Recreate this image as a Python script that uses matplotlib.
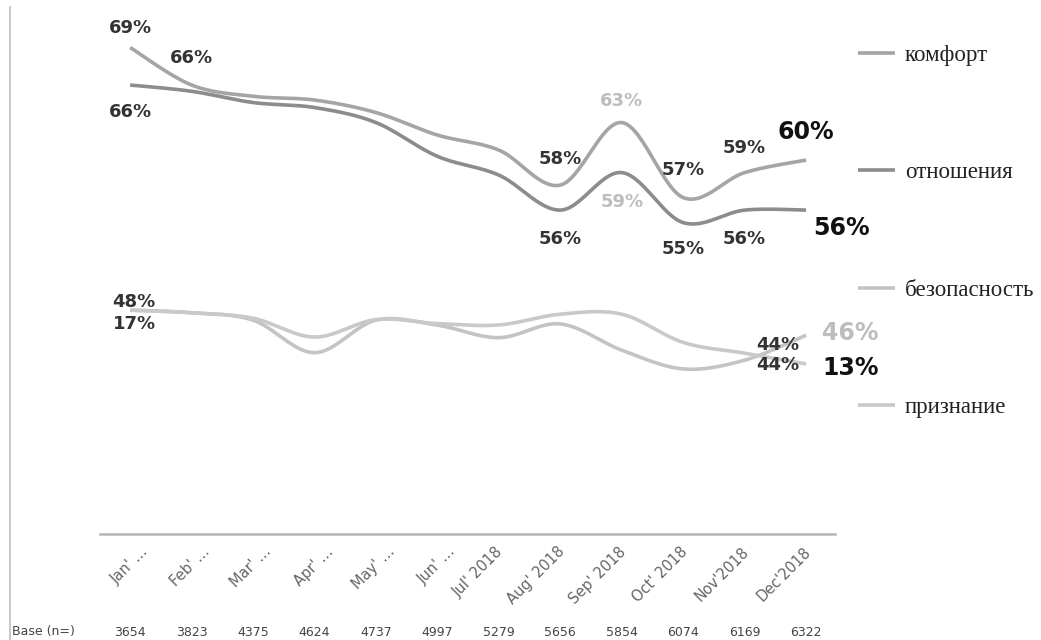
import numpy as np
import matplotlib
matplotlib.use("Agg")
import matplotlib.pyplot as plt
from matplotlib.lines import Line2D
from matplotlib.transforms import ScaledTranslation, offset_copy

# ---- data -----------------------------------------------------------------
months = ["Jan' …", "Feb' …", "Mar' …", "Apr' …", "May' …", "Jun' …",
          "Jul' 2018", "Aug' 2018", "Sep' 2018", "Oct' 2018", "Nov'2018", "Dec'2018"]
base_n = [3654, 3823, 4375, 4624, 4737, 4997, 5279, 5656, 5854, 6074, 6169, 6322]

komfort = [69, 66, 65.1, 64.8, 63.8, 62.0, 60.8, 58, 63, 57, 59, 60]
otnosheniya = [66, 65.5, 64.6, 64.2, 63.0, 60.3, 58.8, 56, 59, 55, 56, 56]
bezopasnost = [48, 47.8, 47.2, 44.6, 47.2, 46.8, 45.8, 46.9, 44.8, 43.3, 44, 46]
priznanie = [17, 16.8, 16.4, 15.0, 16.3, 16.0, 15.9, 16.7, 16.7, 14.6, 13.8, 13]

series_names = ["комфорт", "отношения", "безопасность", "признание"]
series_colors = ["#a5a5a5", "#8c8c8c", "#c4c4c4", "#c9c9c9"]

DARK, LIGHT, BLACK = "#333333", "#bdbdbd", "#111111"


def smooth(xs, ys, n=30):
    """Smoothed line through the points (cubic Bezier, Catmull-Rom tangents)."""
    p = np.column_stack([xs, ys]).astype(float)
    pts = np.vstack([p[0], p, p[-1]])
    out = []
    t = np.linspace(0, 1, n)[:, None]
    for i in range(1, len(pts) - 2):
        p0, p1, p2, p3 = pts[i - 1], pts[i], pts[i + 1], pts[i + 2]
        c1 = p1 + (p2 - p0) / 6.0
        c2 = p2 - (p3 - p1) / 6.0
        seg = ((1 - t) ** 3) * p1 + 3 * ((1 - t) ** 2) * t * c1 + 3 * (1 - t) * t ** 2 * c2 + t ** 3 * p2
        out.append(seg if i == 1 else seg[1:])
    s = np.vstack(out)
    return s[:, 0], s[:, 1]


fig = plt.figure(figsize=(10.41, 6.4), dpi=100)
ax = fig.add_axes([0.0961, 0.1656, 0.8021 - 0.0961, 0.96875 - 0.1656])
x = np.arange(len(months))

# right-hand (hidden) scale for "признание"
ax2 = ax.twinx()
ax.set_ylim(30.1, 71.2)
lo, hi = ax.get_ylim()
to_right = lambda p: 17 - (48 - p) / 1.075
ax2.set_ylim(to_right(lo), to_right(hi))
ax.set_xlim(-0.49, 11.47)

lw = 2.6
handles = []
for vals, color, axis in [(komfort, series_colors[0], ax),
                          (otnosheniya, series_colors[1], ax),
                          (bezopasnost, series_colors[2], ax),
                          (priznanie, series_colors[3], ax2)]:
    sx, sy = smooth(x, vals)
    ln, = axis.plot(sx, sy, color=color, lw=lw, solid_capstyle="butt")
    handles.append(ln)

for a in (ax, ax2):
    for side in ("top", "right", "left"):
        a.spines[side].set_visible(False)
    a.tick_params(left=False, right=False, labelleft=False, labelright=False)
ax2.spines["bottom"].set_visible(False)
ax.spines["bottom"].set_color("#b5b5b5")
ax.spines["bottom"].set_linewidth(1.8)

# month tick labels
ax.set_xticks(x)
ax.set_xticklabels(months, rotation=45, ha="right", va="center",
                   rotation_mode="anchor", fontsize=10.5, color="#666666",
                   family="DejaVu Sans")
ax.tick_params(axis="x", length=0, pad=11)
for i, lab in enumerate(ax.get_xticklabels()):
    shift = 16 if "…" in months[i] else 2
    lab.set_transform(lab.get_transform() + ScaledTranslation(shift / 100, 0, fig.dpi_scale_trans))

# base row
fig.text(12 / 1041, 1 - 632 / 640, "Base (n=)", fontsize=9, color="#444444",
         va="center", ha="left")
row_tr = ax.get_xaxis_transform()
for i, n in enumerate(base_n):
    ax.text(i, 0, str(n), transform=offset_copy(row_tr, fig=fig, x=0, y=-98, units="dots"),
            fontsize=9, color="#444444", ha="center", va="center")


# data labels: (axis, values, index, text, color, size, dx, dy)
def lab(axis, vals, i, txt, color=DARK, size=13, dx=0, dy=0):
    axis.annotate(txt, xy=(i, vals[i]), xytext=(dx, dy), textcoords="offset pixels",
                  ha="center", va="center", fontsize=size, fontweight="bold",
                  color=color, family="DejaVu Sans")


lab(ax, komfort, 0, "69%", dy=20)
lab(ax, komfort, 1, "66%", dy=27)
lab(ax, komfort, 7, "58%", dy=26)
lab(ax, komfort, 8, "63%", color=LIGHT, dy=22)
lab(ax, komfort, 9, "57%", dy=28)
lab(ax, komfort, 10, "59%", dy=25)
lab(ax, komfort, 11, "60%", color=BLACK, size=17, dy=28)

lab(ax, otnosheniya, 0, "66%", dy=-27)
lab(ax, otnosheniya, 7, "56%", dy=-29)
lab(ax, otnosheniya, 8, "59%", color=LIGHT, dy=-29)
lab(ax, otnosheniya, 9, "55%", dy=-26)
lab(ax, otnosheniya, 10, "56%", dy=-29)
lab(ax, otnosheniya, 11, "56%", color=BLACK, size=17, dx=35, dy=-18)

lab(ax, bezopasnost, 0, "48%", dx=4, dy=8)
lab(ax, bezopasnost, 10, "44%", dx=33, dy=15)
lab(ax, bezopasnost, 11, "46%", color=LIGHT, size=17, dx=44, dy=2)

lab(ax2, priznanie, 0, "17%", dx=4, dy=-14)
lab(ax2, priznanie, 10, "44%", dx=33, dy=-12)
lab(ax2, priznanie, 11, "13%", color=BLACK, size=17, dx=45, dy=-4)

# legend
fig.legend(handles, series_names, loc="upper left",
           bbox_to_anchor=(858 / 1041, 1 - 45 / 640), frameon=False,
           handlelength=1.6, handletextpad=0.45, labelspacing=4.2,
           borderpad=0, borderaxespad=0,
           prop={"family": "Liberation Serif", "size": 16.5}, labelcolor="#222222")

# thin frame line on the left
fig.add_artist(Line2D([10 / 1041, 10 / 1041], [0, 1 - 7 / 640], transform=fig.transFigure,
                      color="#c8c8c8", lw=1.4))

fig.savefig("out.png", dpi=100)
